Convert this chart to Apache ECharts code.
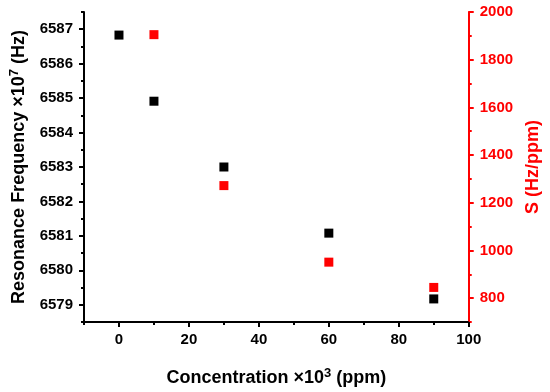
<!DOCTYPE html>
<html><head><meta charset="utf-8">
<script src="https://cdn.jsdelivr.net/npm/echarts@6/dist/echarts.min.js"></script>
<style>html,body{margin:0;padding:0;background:#fff}#c{width:550px;height:392px}</style>
</head><body><div id="c"></div>
<script>
const resFreqX = [0, 10, 30, 60, 90];
const resFreq = [6586.83, 6584.91, 6583.0, 6581.08, 6579.17];
const sensX = [10, 30, 60, 90];
const sensitivity = [1905, 1272, 951, 845];
const xTicks = [0, 20, 40, 60, 80, 100];
const leftTicks = [6579, 6580, 6581, 6582, 6583, 6584, 6585, 6586, 6587];
const rightTicks = [800, 1000, 1200, 1400, 1600, 1800, 2000];

const FONT = 'Liberation Sans, Arial, sans-serif';
const RED = '#ff0000';
const chart = echarts.init(document.getElementById('c'));
const lbl = (color) => ({fontFamily: FONT, fontWeight: 'bold', fontSize: 15, color, formatter: (v) => String(v)});
const grid = {left: 84, right: 78, top: 12, bottom: 68};
const supStyle = {fontFamily: FONT, fontWeight: 'bold', fontSize: 13, color: '#000', verticalAlign: 'top', padding: [0, 0, 9, 0]};

chart.setOption({
  animation: false,
  grid: grid,
  xAxis: [
    {
      type: 'value', min: -10, max: 100, position: 'bottom',
      axisLine: {show: true, onZero: false, lineStyle: {color: '#000', width: 2}},
      axisTick: {show: true, length: 5, lineStyle: {color: '#000', width: 2}, customValues: xTicks},
      axisLabel: Object.assign(lbl('#000'), {margin: 10, customValues: xTicks}),
      splitLine: {show: false},
      name: 'Concentration ×10{sup|3} (ppm)',
      nameLocation: 'middle', nameGap: 45,
      nameTextStyle: {fontFamily: FONT, fontWeight: 'bold', fontSize: 18, color: '#000', rich: {sup: supStyle}}
    },
    {
      type: 'value', min: -10, max: 100, interval: 10, position: 'bottom',
      axisLine: {show: false, onZero: false},
      axisTick: {show: true, length: 3, lineStyle: {color: '#000', width: 2}},
      axisLabel: {show: false}, splitLine: {show: false}
    }
  ],
  yAxis: [
    {
      type: 'value', position: 'left', min: 6578.5, max: 6587.5,
      axisLine: {show: true, onZero: false, lineStyle: {color: '#000', width: 2}},
      axisTick: {show: true, length: 5, lineStyle: {color: '#000', width: 2}, customValues: leftTicks},
      axisLabel: Object.assign(lbl('#000'), {margin: 11, customValues: leftTicks}),
      splitLine: {show: false},
      name: 'Resonance Frequency ×10{sup|7} (Hz)',
      nameLocation: 'middle', nameGap: 54, nameRotate: 90,
      nameTextStyle: {fontFamily: FONT, fontWeight: 'bold', fontSize: 18, color: '#000', rich: {sup: supStyle}}
    },
    {
      type: 'value', position: 'right', min: 700, max: 2000,
      axisLine: {show: true, onZero: false, lineStyle: {color: RED, width: 2}},
      axisTick: {show: true, length: 5, lineStyle: {color: RED, width: 2}, customValues: rightTicks},
      axisLabel: Object.assign(lbl(RED), {margin: 11, customValues: rightTicks}),
      splitLine: {show: false},
      name: 'S (Hz/ppm)',
      nameLocation: 'middle', nameGap: 52, nameRotate: 90,
      nameTextStyle: {fontFamily: FONT, fontWeight: 'bold', fontSize: 18, color: RED}
    },
    {
      type: 'value', position: 'left', min: 6578.5, max: 6587.5, interval: 0.5,
      axisLine: {show: false, onZero: false},
      axisTick: {show: true, length: 3, lineStyle: {color: '#000', width: 2}},
      axisLabel: {show: false}, splitLine: {show: false}
    },
    {
      type: 'value', position: 'right', min: 700, max: 2000, interval: 100,
      axisLine: {show: false, onZero: false},
      axisTick: {show: true, length: 3, lineStyle: {color: RED, width: 2}},
      axisLabel: {show: false}, splitLine: {show: false}
    }
  ],
  series: [
    {
      type: 'scatter', xAxisIndex: 0, yAxisIndex: 0, symbol: 'rect', symbolSize: 9,
      itemStyle: {color: '#000', opacity: 1},
      data: resFreqX.map((x, i) => [x, resFreq[i]])
    },
    {
      type: 'scatter', xAxisIndex: 0, yAxisIndex: 1, symbol: 'rect', symbolSize: 9,
      itemStyle: {color: RED, opacity: 1},
      data: sensX.map((x, i) => [x, sensitivity[i]])
    }
  ]
});
</script></body></html>
